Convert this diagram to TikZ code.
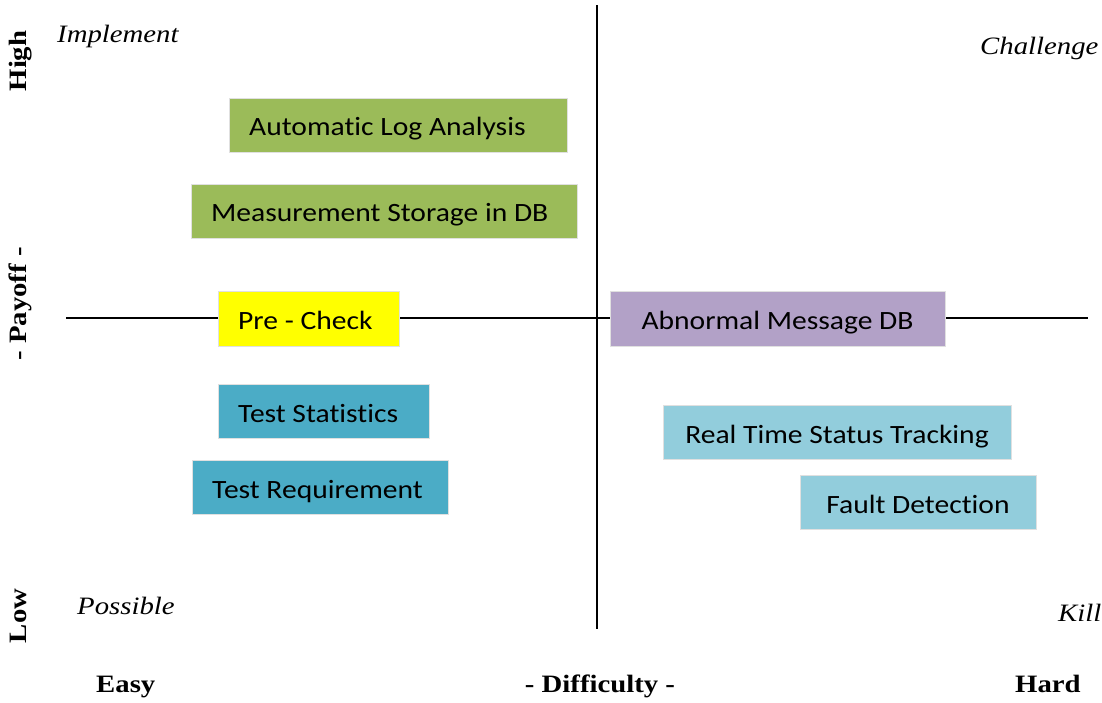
\documentclass[tikz,border=0pt]{standalone}
\usepackage{fontspec}
\setmainfont[FakeStretch=1.15]{Liberation Serif}
\newfontfamily\boxfont[FakeStretch=1.12, Ligatures=NoCommon]{Carlito}
\definecolor{cgreen}{HTML}{9BBB59}
\definecolor{cyellow}{HTML}{FFFF00}
\definecolor{cpurple}{HTML}{B2A1C7}
\definecolor{cteal}{HTML}{4BACC6}
\definecolor{clight}{HTML}{92CDDC}
\tikzset{
  axis/.style={line width=2pt, black},
  box/.style={rectangle, inner sep=0pt, anchor=north west, draw=white!88!black, line width=0.6pt},
  boxtext/.style={inner sep=0pt, font=\boxfont\fontsize{26.4}{30}\selectfont},
  corner/.style={inner sep=0pt, anchor=base west, font=\itshape\fontsize{25}{30}\selectfont},
  scalelabel/.style={inner sep=0pt, font=\bfseries\fontsize{25}{30}\selectfont},
}
\begin{document}
\begin{tikzpicture}[x=1pt, y=-1pt]
\useasboundingbox (0,0) rectangle (1102,702);

% quadrant axes
\coordinate (hl) at (66,318);
\coordinate (hr) at (1088,318);
\coordinate (vt) at (597,5);
\coordinate (vb) at (597,629);
\draw[axis] (hl) -- (hr);
\draw[axis] (vt) -- (vb);

% feature boxes
\node[box, fill=cgreen, minimum width=338pt, minimum height=54pt] (log) at (229,98) {};
\node[boxtext, anchor=base west] (logt) at (249,135.5) {Automatic Log Analysis};

\node[box, fill=cgreen, minimum width=386pt, minimum height=54pt] (meas) at (191,184) {};
\node[boxtext, anchor=base west] (meast) at (211,221.5) {Measurement Storage in DB};

\node[box, fill=cyellow, minimum width=181pt, minimum height=55pt] (pre) at (218,291) {};
\node[boxtext, anchor=base west] (pret) at (238,329.5) {Pre - Check};

\node[box, fill=cpurple, minimum width=335pt, minimum height=55pt] (abn) at (610,291) {};
\node[boxtext, anchor=base] (abnt) at (777.5,329.5) {Abnormal Message DB};

\node[box, fill=cteal, minimum width=211pt, minimum height=54pt] (stat) at (218,384) {};
\node[boxtext, anchor=base west] (statt) at (238,422) {Test Statistics};

\node[box, fill=cteal, minimum width=256pt, minimum height=54pt] (req) at (192,460) {};
\node[boxtext, anchor=base west] (reqt) at (212,498) {Test Requirement};

\node[box, fill=clight, minimum width=348pt, minimum height=54pt] (rts) at (663,405) {};
\node[boxtext, anchor=base] (rtst) at (837,443) {Real Time Status Tracking};

\node[box, fill=clight, minimum width=236pt, minimum height=54pt] (fault) at (800,475) {};
\node[boxtext, anchor=base] (faultt) at (918,513) {Fault Detection};

% quadrant names
\node[corner] (impl) at (57,42) {Implement};
\node[corner] (chal) at (980,54) {Challenge};
\node[corner] (poss) at (77,614) {Possible};
\node[corner] (kill) at (1058,621) {Kill};

% difficulty scale
\node[scalelabel, anchor=base west] (easy) at (96,692) {Easy};
\node[scalelabel, anchor=base] (diff) at (600,692) {- Difficulty -};
\node[scalelabel, anchor=base west] (hard) at (1015,692) {Hard};

% payoff scale
\node[scalelabel, anchor=base, rotate=90] (high) at (27,61) {High};
\node[scalelabel, anchor=base, rotate=90] (pay) at (27,304) {- Payoff -};
\node[scalelabel, anchor=base, rotate=90] (low) at (27,616) {Low};
\end{tikzpicture}
\end{document}
